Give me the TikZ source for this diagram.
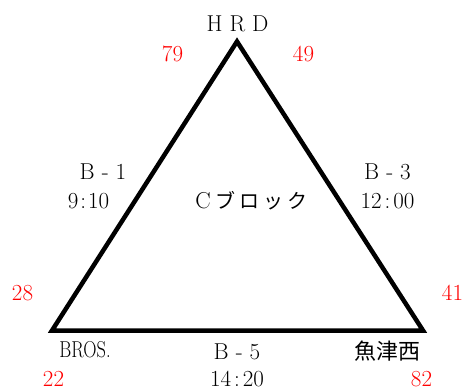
\documentclass[tikz,border=0pt]{standalone}
\usepackage{fontspec}
\usepackage{graphicx}
\newfontfamily\jp{Noto Sans CJK JP}
\begin{document}
\begin{tikzpicture}[x=1pt,y=-1pt,
  lbl/.style={font=\fontsize{23}{26}\selectfont, text=black, inner sep=0pt, anchor=center},
  num/.style={font=\fontsize{23}{26}\selectfont, text=red, inner sep=0pt, anchor=center}]
\useasboundingbox (0,0) rectangle (465,390);
\coordinate (T) at (237,41.5);
\coordinate (L) at (52,330.5);
\coordinate (R) at (423,330.5);
\draw[line width=4.5pt, line join=miter] (T) -- (L) -- (R) -- cycle;
% top
\node[lbl] (hrd) at (237.5,23.5) {H\hspace{7pt}R\hspace{7pt}D};
\node[num] (n79) at (172.5,53.5) {79};
\node[num] (n49) at (303.5,53.5) {49};
% left side
\node[lbl] (b1) at (103,172) {B\hspace{7pt}-\hspace{7pt}1};
\node[lbl] (t1) at (88.5,201.5) {9\hspace{2pt}:\hspace{2pt}10};
% center
\node[lbl] (cb) at (251.5,201) {C\hspace{5pt}{\jp\fontsize{20}{24}\selectfont ブ\hspace{4pt}ロ\hspace{4pt}ッ\hspace{4pt}ク}};
% right side
\node[lbl] (b3) at (387.5,172) {B\hspace{7pt}-\hspace{7pt}3};
\node[lbl] (t3) at (387.5,201.5) {12\hspace{3pt}:\hspace{3pt}00};
% corners
\node[num] (n28) at (22.5,293) {28};
\node[num] (n41) at (452.5,292.5) {41};
\node[lbl] (bros) at (85,350) {\scalebox{0.8}[1]{BROS.}};
\node[num] (n22) at (53.5,379) {22};
\node[lbl] (uo) at (387.5,351) {\jp\fontsize{22}{24}\selectfont 魚津西};
\node[num] (n82) at (421.5,379) {82};
% bottom side
\node[lbl] (b5) at (237,352) {B\hspace{7pt}-\hspace{7pt}5};
\node[lbl] (t5) at (237,379) {14\hspace{3pt}:\hspace{3pt}20};
\end{tikzpicture}
\end{document}
